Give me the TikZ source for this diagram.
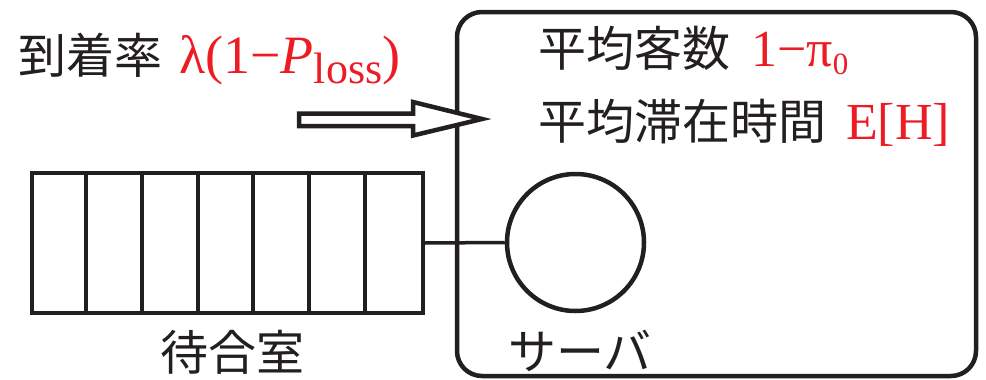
\documentclass[tikz,border=0pt]{standalone}
\usepackage{fontspec}
\usetikzlibrary{calc}
\setmainfont{Noto Sans CJK JP}
\newfontfamily\formulafont{Liberation Serif}
\definecolor{ink}{RGB}{35,31,32}
\definecolor{accent}{RGB}{237,28,36}
\tikzset{
  label/.style={inner sep=0pt, anchor=base west, text=ink,
    font=\fontsize{48pt}{56pt}\selectfont},
  caption/.style={label, anchor=base},
  formula/.style={inner sep=0pt, anchor=base west, text=accent,
    font=\formulafont\fontsize{52pt}{60pt}\selectfont},
  frame/.style={draw=ink, line width=4.5pt, rounded corners=25pt},
  cellbox/.style={draw=ink, line width=4pt, rectangle, inner sep=0pt,
    minimum width=391pt, minimum height=140pt},
  divider/.style={draw=ink, line width=4pt},
  serverbox/.style={draw=ink, line width=4.5pt, circle, inner sep=0pt,
    minimum size=137pt},
  link/.style={draw=ink, line width=3.5pt},
  blockarrow/.style={draw=ink, line width=4.5pt, fill=white, line join=miter}
}
\begin{document}
\begin{tikzpicture}[x=1pt, y=-1pt]
  \useasboundingbox (0,0) rectangle (986,380);

  % system boundary
  \draw[frame] (457,12) rectangle (976,376);

  % arrival rate
  \node[label] (arrlabel) at (18,73) {到着率};
  \node[formula, font=\formulafont\fontsize{54pt}{60pt}\selectfont] (arrval) at (179,73)
    {λ(1−\textit{P}\raisebox{-10pt}{\fontsize{44pt}{48pt}\selectfont loss})};

  % arrival arrow (hollow block arrow)
  \draw[blockarrow] (299,113.5) -- (413,113.5) -- (413,102) -- (482,119)
    -- (413,135.5) -- (413,126) -- (299,126) -- cycle;

  % mean number in system / mean sojourn time
  \node[label] (meannum) at (538,66) {平均客数};
  \node[formula] (meannumval) at (751,66)
    {1−π\raisebox{-8pt}{\fontsize{31pt}{34pt}\selectfont 0}};
  \node[label] (meantime) at (538,139) {平均滞在時間};
  \node[formula] (meantimeval) at (846,139) {E[H]};

  % waiting room with seven cells
  \node[cellbox] (queue) at (227.5,243) {};
  \foreach \i in {1,...,6}
    \draw[divider] ($(queue.north west)+(\i*55.857,0)$) -- ($(queue.south west)+(\i*55.857,0)$);
  \node[caption] (queuelabel) at (232,370) {待合室};

  % server
  \node[serverbox] (server) at (575.5,242.5) {};
  \node[caption] (serverlabel) at (580,369) {サーバ};

  \draw[link] (queue.east) -- (server.west);
\end{tikzpicture}
\end{document}
